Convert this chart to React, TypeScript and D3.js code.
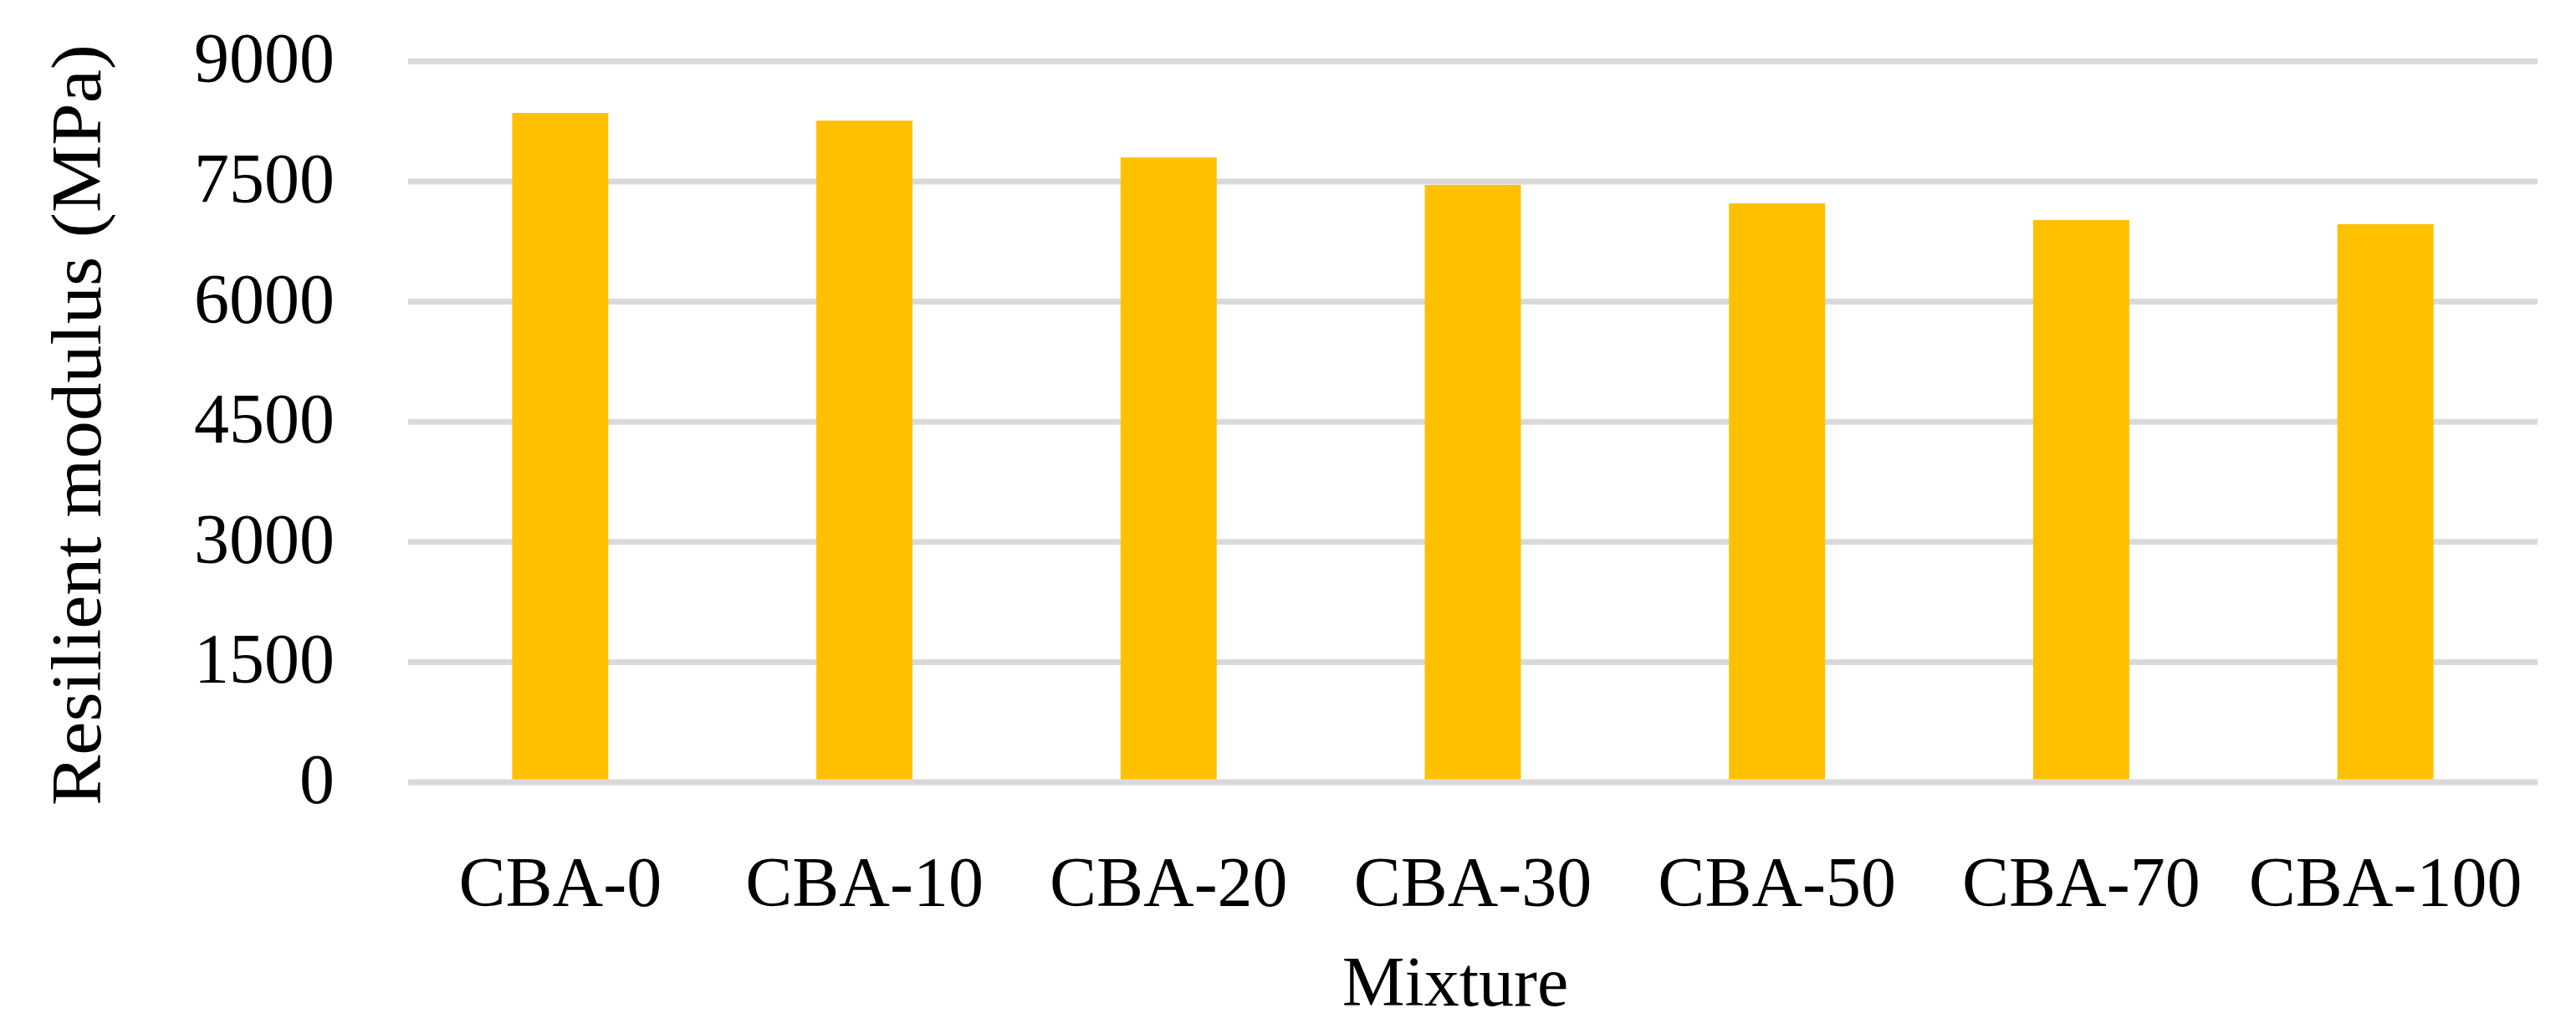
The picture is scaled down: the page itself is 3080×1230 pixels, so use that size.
import React from "react";
import * as d3 from "d3";

const categories = ["CBA-0", "CBA-10", "CBA-20", "CBA-30", "CBA-50", "CBA-70", "CBA-100"];
const values = [8355, 8260, 7800, 7457, 7227, 7018, 6966];
const yTicks = [0, 1500, 3000, 4500, 6000, 7500, 9000];
const yTitle = "Resilient modulus (MPa)";
const xTitle = "Mixture";

const W = 3080;
const H = 1230;
const left = 488;
const right = 3034;
const top = 73.3;
const bottom = 935;
const FONT = "'Liberation Serif', 'Times New Roman', serif";
const FS = 84;

export default function App() {
  const x = d3.scaleBand<string>().domain(categories).range([left, right]).paddingInner(0.684).paddingOuter(0.342);
  const y = d3.scaleLinear().domain([0, 9000]).range([bottom, top]);
  return (
    <svg width={W} height={H} style={{ position: "absolute", left: 0, top: 0, background: "#fff" }}>
      <rect x={0} y={0} width={W} height={H} fill="#fff" />
      {yTicks.map((t) => (
        <g key={t}>
          <line x1={left} x2={right} y1={y(t)} y2={y(t)} stroke="#D9D9D9" strokeWidth={7} />
          <text x={400} y={y(t) + 25} textAnchor="end" fontFamily={FONT} fontSize={FS} fill="#000">
            {t}
          </text>
        </g>
      ))}
      {categories.map((c, i) => (
        <rect key={c} x={x(c)} y={y(values[i])} width={x.bandwidth()} height={y(0) - 3.5 - y(values[i])} fill="#FFC000" />
      ))}
      {categories.map((c) => (
        <text key={c} x={(x(c) as number) + x.bandwidth() / 2} y={1083} textAnchor="middle" fontFamily={FONT} fontSize={FS} fill="#000">
          {c}
        </text>
      ))}
      <text x={1740} y={1202} textAnchor="middle" fontFamily={FONT} fontSize={FS} fill="#000">
        {xTitle}
      </text>
      <text
        transform={`translate(120, 508) rotate(-90)`}
        textAnchor="middle"
        fontFamily={FONT}
        fontSize={FS}
        fill="#000"
        textLength={910}
        lengthAdjust="spacingAndGlyphs"
      >
        {yTitle}
      </text>
    </svg>
  );
}
